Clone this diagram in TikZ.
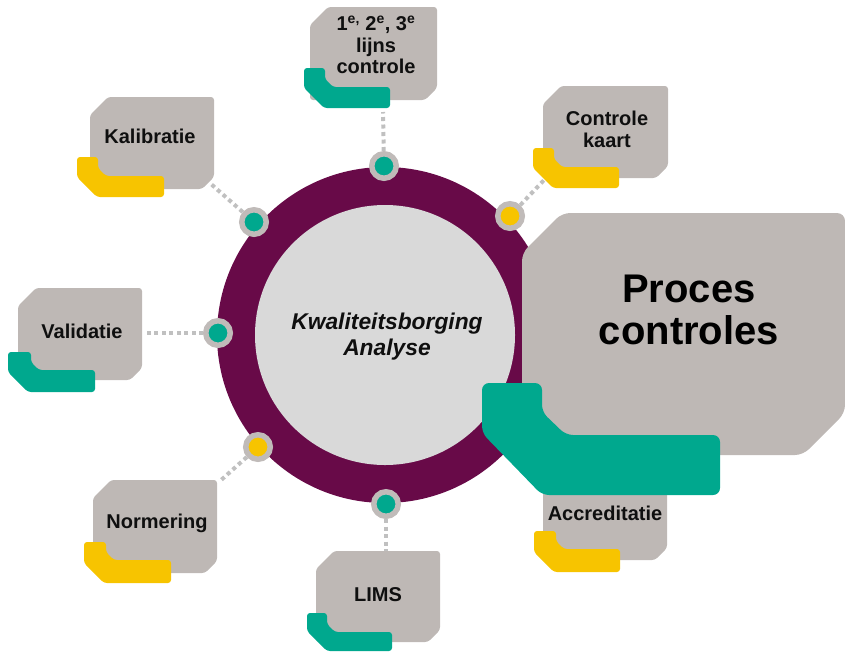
\documentclass[tikz,border=0pt]{standalone}
\usepackage{fontspec}
\setmainfont{Liberation Sans}
\definecolor{ringpurple}{RGB}{104,10,72}
\definecolor{innergrey}{RGB}{217,217,217}
\definecolor{boxgrey}{RGB}{190,184,181}
\definecolor{dotgrey}{RGB}{192,187,185}
\definecolor{conngrey}{RGB}{192,192,192}
\definecolor{qteal}{RGB}{0,168,142}
\definecolor{qyellow}{RGB}{247,196,0}
\definecolor{txt}{RGB}{15,15,15}
% grey box: L T R B
\newcommand\qgbox[4]{%
  \fill[boxgrey, rounded corners=3pt] (#1,#2+18) -- (#1+18,#2) -- (#3,#2) -- (#3,#4-12) -- (#3-12,#4) -- (#1,#4) -- cycle;}
% accent: l t vr ht bo r colour
\newcommand\qacc[7]{%
  \fill[#7, rounded corners=3pt] (#1,#2) -- (#3,#2) -- (#3,#4-8) -- (#3+8,#4) -- (#6,#4) -- (#6,#5) -- (#1+20,#5) -- (#1,#5-20) -- cycle;}
\begin{document}
\begin{tikzpicture}[x=1pt,y=-1pt,
  conn/.style={draw=conngrey, line width=4pt, dash pattern=on 4pt off 3.5pt},
  dotnode/.style={circle, draw=dotgrey, line width=5.5pt, minimum size=24.5pt, inner sep=0pt},
  lbl/.style={font=\bfseries\fontsize{20}{21.5}\selectfont, text=txt, align=center, inner sep=0pt},
]
\useasboundingbox (0,0) rectangle (845,654);

% central ring
\node[circle, fill=ringpurple, minimum size=336pt, inner sep=0pt] (ring) at (385,335) {};
\node[circle, fill=innergrey, minimum size=260pt, inner sep=0pt] (core) at (385,335) {};
\node[font=\bfseries\itshape\fontsize{22.8}{26}\selectfont, text=txt, align=center, inner sep=0pt] (title) at (387,336.5) {Kwaliteitsborging\\Analyse};

% connector end points
\coordinate (c1) at (383,112);
\coordinate (cKal) at (211,184);
\coordinate (cCK) at (545,179);
\coordinate (cVal) at (144,333);
\coordinate (cNorm) at (220,481);
\coordinate (cLIMS) at (386,551);

% dots
\node[dotnode, fill=qteal] (d1) at (384,166) {};
\node[dotnode, fill=qteal] (dKal) at (254,222) {};
\node[dotnode, fill=qyellow] (dCK) at (510,216) {};
\node[dotnode, fill=qteal] (dVal) at (218,333) {};
\node[dotnode, fill=qyellow] (dNorm) at (258,447) {};
\node[dotnode, fill=qteal] (dLIMS) at (386,504) {};

% connectors
\draw[conn] (d1) -- (c1);
\draw[conn] (dKal) -- (cKal);
\draw[conn] (dCK) -- (cCK);
\draw[conn] (dVal) -- (cVal);
\draw[conn] (dNorm) -- (cNorm);
\draw[conn] (dLIMS) -- (cLIMS);

% small boxes
\qgbox{310}{7}{437}{100}
\qacc{304}{68}{325}{87}{108}{390}{qteal}
\node[lbl] (t1) at (376,45) {1\textsuperscript{e,} 2\textsuperscript{e}, 3\textsuperscript{e}\\lijns\\controle};

\qgbox{90}{97}{214}{189}
\qacc{77}{157}{98}{176}{197}{164}{qyellow}
\node[lbl, anchor=base] (tKal) at (150,143) {Kalibratie};

\qgbox{543}{86}{668}{178}
\qacc{533}{148}{554}{167}{188}{619}{qyellow}
\node[lbl] (tCK) at (607,129.5) {Controle\\kaart};

\qgbox{18}{288}{142}{380}
\qacc{8}{352}{31}{370}{392}{95}{qteal}
\node[lbl, anchor=base] (tVal) at (82,338) {Validatie};

\qgbox{93}{480}{217}{573}
\qacc{84}{542}{106}{560}{583}{171}{qyellow}
\node[lbl, anchor=base] (tNorm) at (157,528) {Normering};

\qgbox{316}{551}{440}{642}
\qacc{307}{613}{327}{632}{651}{392}{qteal}
\node[lbl, anchor=base] (tLIMS) at (378,601) {LIMS};

\qgbox{543}{468}{667}{560}
\qacc{534}{531}{556}{549}{572}{620}{qyellow}
\node[lbl, anchor=base] (tAcc) at (605,520) {Accreditatie};

% big box
\fill[boxgrey, rounded corners=8pt] (522,253) -- (562,213) -- (845,213) -- (845,413) -- (803,455) -- (522,455) -- cycle;
\fill[qteal, rounded corners=7pt] (482,383) -- (542,383) -- (542,412) -- (566,435) -- (720,435) -- (720,495) -- (542,495) -- (482,433) -- cycle;
\node[font=\bfseries\fontsize{40}{42}\selectfont, text=black, align=center, inner sep=0pt] (tBig) at (689,310) {Proces\\controles};
\end{tikzpicture}
\end{document}
